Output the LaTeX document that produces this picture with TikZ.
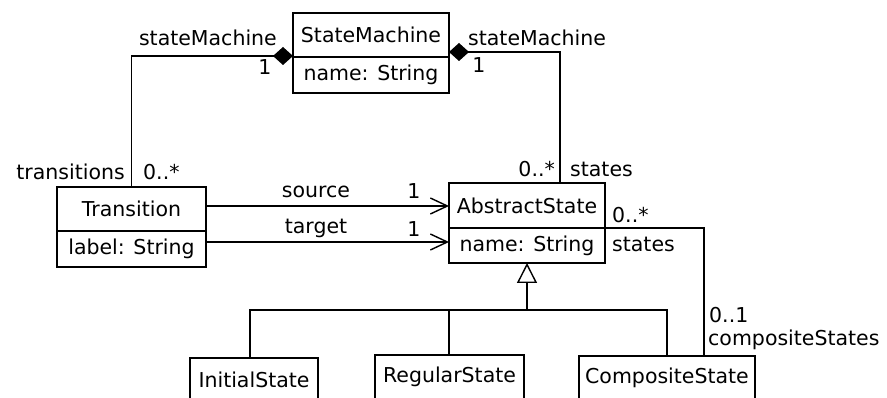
\documentclass[tikz,border=0pt]{standalone}
\usepackage{fontspec}
\setmainfont{DejaVu Sans}
\usetikzlibrary{arrows.meta,positioning,calc}

\tikzset{
  box/.style={draw, line width=1.4pt, inner sep=0pt, outer sep=0pt, anchor=north west, minimum height=44pt},
  attr/.style={box, minimum height=36pt},
  lbl/.style={inner sep=0pt},
  assoc/.style={line width=1.4pt},
  nav/.style={assoc, -{Straight Barb[length=17pt,width=16pt,line width=1.4pt]}},
  comp/.style={assoc, {Diamond[length=20pt,width=18pt]}-},
  gen/.style={assoc, -{Triangle[length=20pt,width=20pt,fill=white]}},
}

\begin{document}
\begin{tikzpicture}[x=1pt,y=-1pt,font=\fontsize{20.5}{23}\selectfont]
\useasboundingbox (0,0) rectangle (887,398);

% classes
\node[box, minimum width=156pt] (sm) at (293,13) {StateMachine};
\node[attr, minimum width=156pt] (smattr) at (sm.south west) {name: String};
\node[box, minimum width=149pt] (tr) at (57,187) {Transition};
\node[attr, minimum width=149pt] (trattr) at (tr.south west) {label: String};
\node[box, minimum width=156pt, minimum height=45pt] (as) at (449,183) {AbstractState};
\node[attr, minimum width=156pt, minimum height=35pt] (asattr) at (as.south west) {name: String};

\node[box, minimum width=128pt] (init) at (190,358) {InitialState};
\node[box, minimum width=149pt] (reg) at (375,355) {RegularState};
\node[box, minimum width=176pt] (cmp) at (579,356) {CompositeState};

% associations
\draw[comp] ([yshift=1pt]sm.south west) -| (tr.north);
\draw[comp] ([yshift=5pt]sm.south east) -| ([xshift=33pt]as.north);
\draw[nav] ([yshift=3pt]tr.east) -- ([yshift=3pt]tr.east -| as.west);
\draw[nav] ([yshift=7pt]trattr.east) -- ([yshift=7pt]trattr.east -| as.west);
\draw[assoc] (as.south east) -| ([xshift=37pt]cmp.north);

% generalization
\coordinate (hub) at (527,310);
\draw[gen] (hub) -- (asattr.south);
\draw[assoc] ([xshift=-4pt]init.north) |- (hub) -| (cmp.north);
\draw[assoc] ([xshift=-0.5pt]reg.north) -- ([xshift=-0.5pt]reg.north |- hub);

% role names and multiplicities
\node[lbl, anchor=base east] (l1) at (277,46) {stateMachine};
\node[lbl, anchor=base] (l2) at (265,75) {1};
\node[lbl, anchor=base west] (l3) at (468,46) {stateMachine};
\node[lbl, anchor=base] (l4) at (479,73) {1};
\node[lbl, anchor=base east] (l5) at (125,180) {transitions};
\node[lbl, anchor=base west] (l6) at (143,180) {0..*};
\node[lbl, anchor=base east] (l7) at (555,177) {0..*};
\node[lbl, anchor=base west] (l8) at (570,177) {states};
\node[lbl, anchor=base] (l9) at (316,198) {source};
\node[lbl, anchor=base] (l10) at (414,199) {1};
\node[lbl, anchor=base] (l11) at (316,234) {target};
\node[lbl, anchor=base] (l12) at (414,237) {1};
\node[lbl, anchor=base west] (l13) at (612,223) {0..*};
\node[lbl, anchor=base west] (l14) at (612,252) {states};
\node[lbl, anchor=base west] (l15) at (709,323) {0..1};
\node[lbl, anchor=base west] (l16) at (708,345) {compositeStates};
\end{tikzpicture}
\end{document}
